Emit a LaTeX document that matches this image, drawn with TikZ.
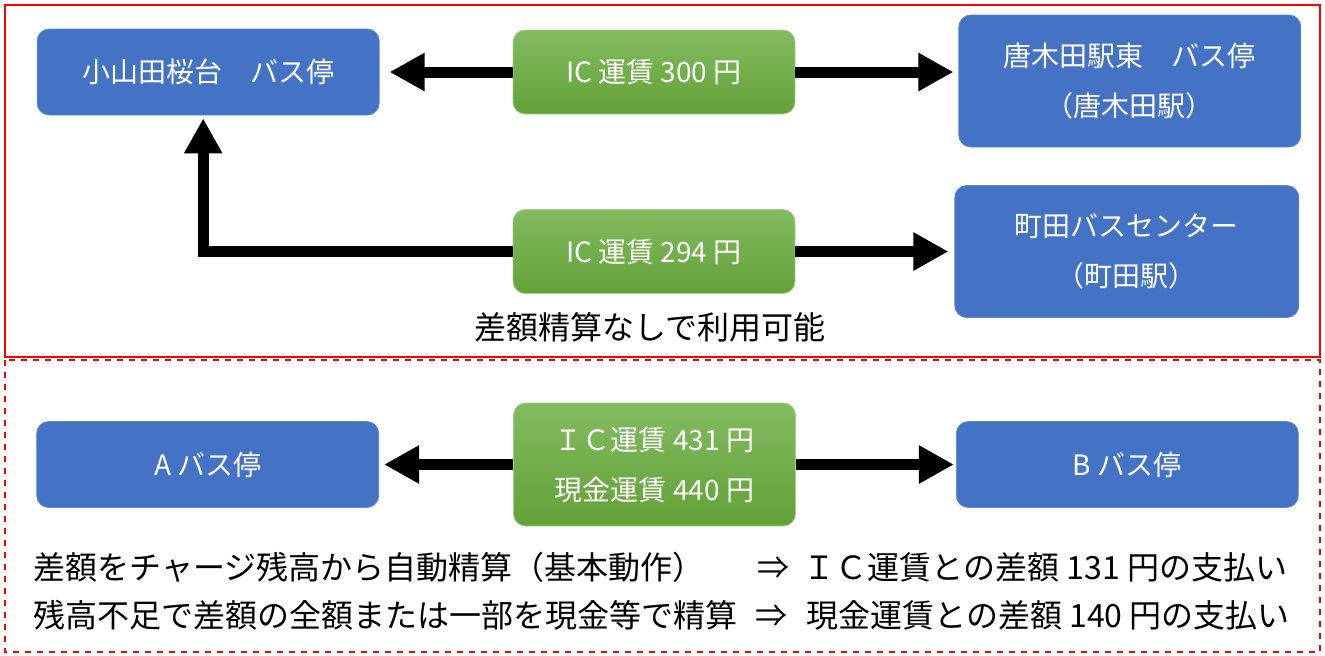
\documentclass[tikz,border=0pt]{standalone}
\usepackage{fontspec}
\setmainfont{Noto Sans CJK JP}
\definecolor{StopBlue}{RGB}{68, 114, 196}
\definecolor{FareTop}{RGB}{131, 187, 96}
\definecolor{FareBottom}{RGB}{98, 161, 56}
\definecolor{FrameRed}{RGB}{255, 0, 0}
\usetikzlibrary{arrows.meta, positioning}

\begin{document}
\begin{tikzpicture}[
            x=0.5pt, y=-0.5pt,
            stop/.style={rectangle, rounded corners=6pt, draw=StopBlue!85!white, fill=StopBlue, text=white,
                        minimum width=171pt, minimum height=43pt, align=center, font=\fontsize{14pt}{25pt}\selectfont},
            fare/.style={rectangle, rounded corners=6pt, draw=FareTop!70!white, top color=FareTop, bottom color=FareBottom,
                        text=white, minimum width=141pt, minimum height=42pt, align=center, font=\fontsize{14pt}{25pt}\selectfont},
            note/.style={inner sep=0pt, font=\fontsize{16pt}{20pt}\selectfont},
            arrow/.style={-{Triangle[length=17.5pt, width=18pt]}, line width=5.5pt, black}
        ]
            \useasboundingbox (0,0) rectangle (1325,655);
            \draw[FrameRed, line width=1pt] (5,5) rectangle (1320,357);
            \draw[FrameRed, line width=1pt, dashed] (5,360) rectangle (1320,652);

            \node[fare] (fareA) at (654,72) {IC 運賃 300 円};
            \node[stop, left=66.5pt of fareA] (oyamada) {小山田桜台　バス停};
            \node[stop, right=81.5pt of fareA, yshift=-4.5pt, minimum height=66pt] (karakida) {唐木田駅東　バス停\\（唐木田駅）};

            \node[fare] (fareB) at (654,251.5) {IC 運賃 294 円};
            \node[stop, right=79.5pt of fareB, minimum width=172pt, minimum height=66pt] (machida) {町田バスセンター\\（町田駅）};

            \node[fare, minimum height=61.5pt] (fareC) at (654.5,464.5) {ＩＣ運賃 431 円\\現金運賃 440 円};
            \node[stop, left=67pt of fareC] (stopA) {A バス停};
            \node[stop, right=80pt of fareC] (stopB) {B バス停};

            \draw[arrow] (fareA.west) -- ([xshift=5pt]fareA.west -| oyamada.east);
            \draw[arrow] (fareA.east) -- ([xshift=-2.5pt]fareA.east -| karakida.west);
            \draw[arrow] (fareB.east) -- ([xshift=-3pt]fareB.east -| machida.west);
            \draw[arrow] (fareB.west) -| ([xshift=-2.5pt, yshift=-1.5pt]oyamada.south);
            \draw[arrow] (fareC.west) -- ([xshift=2.5pt]fareC.west -| stopA.east);
            \draw[arrow] (fareC.east) -- ([xshift=-1pt]fareC.east -| stopB.west);

            \node[note] (nofee) at (650,327) {差額精算なしで利用可能};
            \node[note, anchor=west] (auto) at (33,567) {差額をチャージ残高から自動精算（基本動作）};
            \node[note, anchor=west] (autopay) at (757,567) {⇒\hspace{0.45em}ＩＣ運賃との差額 131 円の支払い};
            \node[note, anchor=west] (cash) at (33,615) {残高不足で差額の全額または一部を現金等で精算};
            \node[note, anchor=west] (cashpay) at (755,615) {⇒\hspace{0.6em}現金運賃との差額 140 円の支払い};
        \end{tikzpicture}
\end{document}
